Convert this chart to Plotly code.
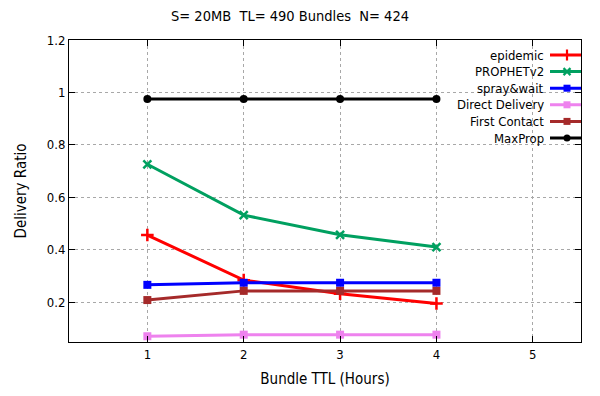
import plotly.graph_objects as go

ttl_hours = [1, 2, 3, 4]
epidemic = [0.456, 0.284, 0.232, 0.195]
prophet_v2 = [0.726, 0.532, 0.457, 0.410]
spray_wait = [0.266, 0.274, 0.274, 0.274]
direct_delivery = [0.070, 0.076, 0.076, 0.076]
first_contact = [0.208, 0.243, 0.243, 0.243]
maxprop = [0.975, 0.975, 0.975, 0.975]

series_names = ["epidemic", "PROPHETv2", "spray&wait", "Direct Delivery", "First Contact", "MaxProp"]
series_values = [epidemic, prophet_v2, spray_wait, direct_delivery, first_contact, maxprop]
colors = ["#ff0000", "#00a060", "#0000ff", "#ee82ee", "#a52a2a", "#000000"]
symbols = ["cross-thin", "x-thin", "square", "square", "square", "circle"]
sizes = [9, 8, 8, 8, 8, 8]

x_ticks = [1, 2, 3, 4, 5]
y_ticks = [0.2, 0.4, 0.6, 0.8, 1.0, 1.2]
y_tick_labels = ["0.2", "0.4", "0.6", "0.8", "1", "1.2"]

FONT = "DejaVu Sans Condensed, Liberation Sans Narrow, sans-serif"

# page has an 8px body margin, so figure coords = page coords - 8
OFF = 8
W, H = 600 - 2 * OFF, 396 - 2 * OFF
L, R, T, B = 69 - OFF, 581 - OFF, 40 - OFF, 342 - OFF

fig = go.Figure()
for name, vals, c, s, sz in zip(series_names, series_values, colors, symbols, sizes):
    fig.add_trace(go.Scatter(
        x=ttl_hours, y=vals, mode="lines+markers", name=name,
        line=dict(color=c, width=3),
        marker=dict(symbol=s, size=sz, color=c, line=dict(color=c, width=2.5 if "thin" in s else 0)),
        showlegend=False, cliponaxis=False,
    ))

# custom gnuplot-style key (text left, sample right), in pixel-like overlay axes
row_y0 = 55 - OFF
row_dy = 16.6
for i, (name, c, s, sz) in enumerate(zip(series_names, colors, symbols, sizes)):
    yy = row_y0 + i * row_dy
    fig.add_trace(go.Scatter(
        x=[550 - OFF, 567 - OFF, 586 - OFF], y=[yy, yy, yy], xaxis="x2", yaxis="y2",
        mode="lines", line=dict(color=c, width=3), showlegend=False, hoverinfo="skip",
        cliponaxis=False,
    ))
    fig.add_trace(go.Scatter(
        x=[567 - OFF], y=[yy], xaxis="x2", yaxis="y2", mode="markers",
        marker=dict(symbol=s, size=sz - 1, color=c, line=dict(color=c, width=2.2 if "thin" in s else 0)),
        showlegend=False, hoverinfo="skip", cliponaxis=False,
    ))
    fig.add_annotation(x=546 - OFF, y=yy, xref="x2", yref="y2", text=name, showarrow=False,
                       xanchor="right", yanchor="middle", font=dict(family=FONT, size=13, color="#000"))

axis_common = dict(showline=True, linecolor="#000", linewidth=1, mirror="ticks",
                   ticks="inside", ticklen=6, tickcolor="#000", automargin=False,
                   showgrid=True, gridcolor="#a8a8a8", griddash="dot", gridwidth=1,
                   zeroline=False, tickfont=dict(family=FONT, size=13, color="#000"))

fig.update_layout(
    width=W, height=H, autosize=False,
    margin=dict(l=L, r=W - R, t=T, b=H - B, pad=0),
    paper_bgcolor="white", plot_bgcolor="white",
    title=dict(text="S= 20MB  TL= 490 Bundles  N= 424", x=(290 - OFF) / W, xref="container",
               xanchor="center", y=1 - (16 - OFF) / H, yref="container",
               yanchor="middle", font=dict(family=FONT, size=14.5, color="#000")),
    xaxis=dict(range=[0.187, 5.5], tickvals=x_ticks, ticktext=[str(v) for v in x_ticks],
               title=dict(text="Bundle TTL (Hours)", font=dict(family=FONT, size=15, color="#000"), standoff=14),
               **axis_common),
    yaxis=dict(range=[0.048, 1.2], tickvals=y_ticks, ticktext=y_tick_labels,
               title=dict(text="Delivery Ratio", font=dict(family=FONT, size=15, color="#000"), standoff=16),
               **axis_common),
    xaxis2=dict(range=[L, R], overlaying="x", visible=False, fixedrange=True),
    yaxis2=dict(range=[B, T], overlaying="y", visible=False, fixedrange=True),
    showlegend=False,
)

fig.write_html("out.html")
